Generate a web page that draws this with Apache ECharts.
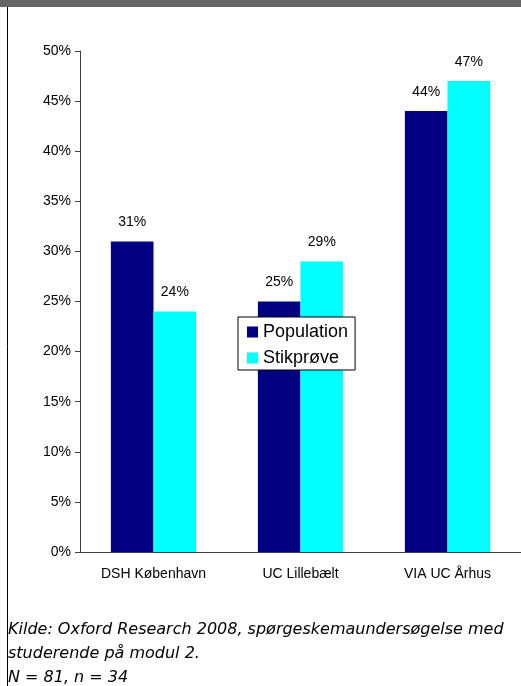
<!doctype html>
<html>
<head>
  <meta charset="utf-8">
  <title>Population og stikprøve</title>
  <script src="https://cdn.jsdelivr.net/npm/echarts@6/dist/echarts.min.js"></script>
  <style>
    body { margin: 0; background: #fff; }
  </style>
</head>
<body>
  <div id="main" style="width:521px;height:686px;"></div>
  <script>
  // data
  var schools = ['DSH København', 'UC Lillebælt', 'VIA UC Århus'];
  var population = [31, 25, 44];
  var stikproeve = [24, 29, 47];
  var yTicks = [0, 5, 10, 15, 20, 25, 30, 35, 40, 45, 50];
  var noteLines = [
    'Kilde: Oxford Research 2008, spørgeskemaundersøgelse med',
    'studerende på modul 2.',
    'N = 81, n = 34'
  ];

  var axisFont = 'Liberation Sans, Arial, sans-serif';

  var notes = noteLines.map(function (t, i) {
    return {
      type: 'text',
      left: 8,
      top: 622 + i * 24,
      style: {
        text: t,
        font: 'italic 16px "DejaVu Sans", Verdana, sans-serif',
        fill: '#000'
      }
    };
  });

  var option = {
    backgroundColor: '#fff',
    animation: false,
    grid: {
      left: 80,
      top: 51,
      width: 446,
      height: 501
    },
    legend: {
      orient: 'vertical',
      left: 238,
      top: 317,
      padding: [6, 7, 3, 9],
      itemWidth: 11,
      itemHeight: 11,
      itemGap: 8,
      icon: 'rect',
      backgroundColor: '#fff',
      borderColor: '#000',
      borderWidth: 1,
      borderRadius: 0,
      textStyle: {
        fontFamily: axisFont,
        fontSize: 18,
        color: '#000',
        padding: [0, 0, 0, 0]
      },
      data: ['Population', 'Stikprøve']
    },
    xAxis: {
      type: 'category',
      data: schools,
      axisLine: { lineStyle: { color: '#404040', width: 1 } },
      axisTick: { length: 4, lineStyle: { color: '#404040' } },
      axisLabel: {
        margin: 15,
        fontFamily: axisFont,
        fontSize: 14,
        color: '#000'
      }
    },
    yAxis: {
      type: 'value',
      min: yTicks[0],
      max: yTicks[yTicks.length - 1],
      interval: yTicks[1] - yTicks[0],
      splitLine: { show: false },
      axisLine: { show: true, lineStyle: { color: '#404040', width: 1 } },
      axisTick: { show: true, length: 5, lineStyle: { color: '#404040' } },
      axisLabel: {
        margin: 9,
        fontFamily: axisFont,
        fontSize: 14,
        color: '#000',
        formatter: '{value}%'
      }
    },
    series: [
      {
        name: 'Population',
        type: 'bar',
        data: population,
        barGap: 0,
        barCategoryGap: '42%',
        itemStyle: { color: '#000080' },
        label: {
          show: true,
          position: 'top',
          distance: 12,
          fontFamily: axisFont,
          fontSize: 14,
          color: '#000',
          formatter: '{c}%'
        }
      },
      {
        name: 'Stikprøve',
        type: 'bar',
        data: stikproeve,
        barGap: 0,
        barCategoryGap: '42%',
        itemStyle: { color: '#00FFFF' },
        label: {
          show: true,
          position: 'top',
          distance: 12,
          fontFamily: axisFont,
          fontSize: 14,
          color: '#000',
          formatter: '{c}%'
        }
      }
    ],
    graphic: [
      {
        type: 'rect',
        left: 0,
        top: 0,
        shape: { width: 521, height: 7 },
        style: { fill: '#666666' }
      },
      {
        type: 'line',
        shape: { x1: 7.5, y1: 7, x2: 7.5, y2: 686 },
        style: { stroke: '#000', lineWidth: 1 }
      }
    ].concat(notes)
  };

  var myChart = echarts.init(document.getElementById('main'));
  myChart.setOption(option);
  </script>
</body>
</html>
